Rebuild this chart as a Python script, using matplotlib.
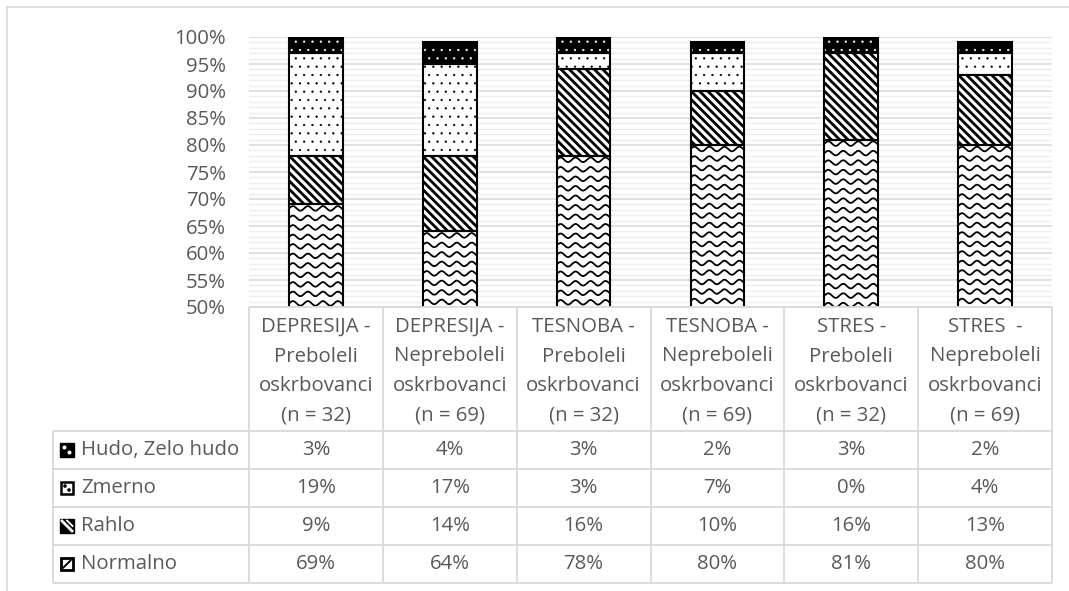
import numpy as np
import matplotlib
matplotlib.use("Agg")
import matplotlib.pyplot as plt
from matplotlib.patches import Rectangle, Circle
from matplotlib.ticker import PercentFormatter, MultipleLocator
from matplotlib.lines import Line2D

plt.rcParams['font.family'] = ['Open Sans', 'DejaVu Sans']

# ---- data ----
categories = [
    "DEPRESIJA -\nPreboleli\noskrbovanci\n(n = 32)",
    "DEPRESIJA -\nNepreboleli\noskrbovanci\n(n = 69)",
    "TESNOBA -\nPreboleli\noskrbovanci\n(n = 32)",
    "TESNOBA -\nNepreboleli\noskrbovanci\n(n = 69)",
    "STRES -\nPreboleli\noskrbovanci\n(n = 32)",
    "STRES  -\nNepreboleli\noskrbovanci\n(n = 69)",
]
normalno = [69, 64, 78, 80, 81, 80]
rahlo = [9, 14, 16, 10, 16, 13]
zmerno = [19, 17, 3, 7, 0, 4]
hudo = [3, 4, 3, 2, 3, 2]

series_names = ["Normalno", "Rahlo", "Zmerno", "Hudo, Zelo hudo"]
series_values = [normalno, rahlo, zmerno, hudo]
table_order = ["Hudo, Zelo hudo", "Zmerno", "Rahlo", "Normalno"]

# ---- layout (pixels) ----
W, H = 1069, 591
DPI = 100
px_left, px_right = 249, 1052
px_top, px_bottom = 37, 307
hdr_bottom = 431
row_h = 38
lab_left = 53
TXT = "#595959"
GRID = "#d9d9d9"
FS = 14.7

fig = plt.figure(figsize=(W / DPI, H / DPI), dpi=DPI)
ax = fig.add_axes([px_left / W, 1 - px_bottom / H,
                   (px_right - px_left) / W, (px_bottom - px_top) / H])
n = len(categories)
x = np.arange(n)
bw = 0.4
y_min, y_max = 50, 100
ax.set_xlim(-0.5, n - 0.5)
ax.set_ylim(y_min, y_max)
ax.yaxis.set_major_locator(MultipleLocator(5))
ax.yaxis.set_minor_locator(MultipleLocator(1))
ax.yaxis.set_major_formatter(PercentFormatter(100, decimals=0))
ax.grid(which='minor', axis='y', color="#eeeeee", lw=1.0)
ax.grid(which='major', axis='y', color=GRID, lw=1.1)
ax.set_axisbelow(True)
ax.tick_params(axis='y', which='both', length=0, labelsize=FS, labelcolor=TXT, pad=16.5)
ax.tick_params(axis='x', which='both', length=0, labelbottom=False)
for s in ax.spines.values():
    s.set_visible(False)

# px -> data scale for textures
dx_per_px = n / (px_right - px_left)
dy_per_px = (y_max - y_min) / (px_bottom - px_top)


def wave_texture(axis, x0, x1, y0, y1, lw=1.3, color='black'):
    """Horizontal wavy lines filling the visible part of a bar segment."""
    clip = Rectangle((x0, y0), x1 - x0, y1 - y0, transform=axis.transData)
    period = 15 * dx_per_px
    amp = 2.3 * dy_per_px
    step = 9.5 * dy_per_px
    xs = np.linspace(x0, x1, 200)
    yy = y1 - 4 * dy_per_px
    while yy > y0 - step:
        ln = Line2D(xs, yy + amp * np.sin(2 * np.pi * (xs - x0) / period),
                    color=color, lw=lw, transform=axis.transData, zorder=1.5)
        axis.add_line(ln)
        ln.set_clip_path(clip)
        yy -= step


bottom = np.zeros(n)
for name, vals in zip(series_names, series_values):
    vals = np.array(vals, dtype=float)
    for i in range(n):
        b, h = bottom[i], vals[i]
        if name == "Normalno":
            ax.bar(x[i], h, bw, bottom=b, color='white', edgecolor='black', lw=0)
            wave_texture(ax, x[i] - bw / 2, x[i] + bw / 2, max(b, y_min), b + h)
        elif name == "Rahlo":
            r = ax.bar(x[i], h, bw, bottom=b, color='white', edgecolor='black',
                       lw=0, hatch='\\\\\\\\')[0]
            if hasattr(r, 'set_hatch_linewidth'):
                r.set_hatch_linewidth(2.0)
        elif name == "Zmerno":
            r = ax.bar(x[i], h, bw, bottom=b, color='white', edgecolor='black',
                       lw=0, hatch='..')[0]
            if hasattr(r, 'set_hatch_linewidth'):
                r.set_hatch_linewidth(0.4)
        else:
            r = ax.bar(x[i], h, bw, bottom=b, color='black', edgecolor='white',
                       lw=0, hatch='..')[0]
            if hasattr(r, 'set_hatch_linewidth'):
                r.set_hatch_linewidth(0.4)
        # outline of segment
        if h > 0:
            ax.bar(x[i], h, bw, bottom=b, facecolor='none', edgecolor='black',
                   lw=1.5, zorder=2)
    bottom += vals

# ---- overlays for table and frame (pixel coordinates) ----
ov = fig.add_axes([0, 0, 1, 1], zorder=-1)
ov.set_xlim(0, W)
ov.set_ylim(H, 0)
ov.axis('off')
ov2 = fig.add_axes([0, 0, 1, 1], zorder=5)
ov2.set_xlim(0, W)
ov2.set_ylim(H, 0)
ov2.axis('off')
ov2.patch.set_alpha(0)

# outer frame
ov.plot([7, W], [7, 7], color=GRID, lw=1.2)
ov.plot([7, 7], [7, H], color=GRID, lw=1.2)

col_w = (px_right - px_left) / n
col_edges = [px_left + k * col_w for k in range(n + 1)]
n_rows = len(table_order)
tab_bottom = hdr_bottom + n_rows * row_h

lkw = dict(color=GRID, lw=1.3, solid_capstyle='butt')
ov2.plot([px_left, px_right], [px_bottom, px_bottom], **lkw)
for xe in col_edges:
    ov2.plot([xe, xe], [px_bottom, tab_bottom], **lkw)
ov2.plot([lab_left, lab_left], [hdr_bottom, tab_bottom], **lkw)
for k in range(n_rows + 1):
    yk = hdr_bottom + k * row_h
    ov2.plot([lab_left, px_right], [yk, yk], **lkw)

# header text
for i, cat in enumerate(categories):
    cx = (col_edges[i] + col_edges[i + 1]) / 2
    for j, line in enumerate(cat.split("\n")):
        ov2.text(cx, 332 + j * 29.5, line, ha='center', va='baseline',
                 fontsize=FS, color=TXT)

# table body
lookup = dict(zip(series_names, series_values))
for k, name in enumerate(table_order):
    cy = hdr_bottom + (k + 0.5) * row_h
    vals = lookup[name]
    for i in range(n):
        cx = (col_edges[i] + col_edges[i + 1]) / 2
        ov2.text(cx, cy, f"{vals[i]}%", ha='center', va='center',
                 fontsize=FS, color=TXT)
    ov2.text(81, cy, name, ha='left', va='center', fontsize=FS, color=TXT)
    # legend key
    ks = 14
    kx, ky = 60, cy - ks / 2
    if name == "Hudo, Zelo hudo":
        ov2.add_patch(Rectangle((kx, ky), ks, ks, facecolor='black', edgecolor='black', lw=1))
        ov2.add_patch(Circle((kx + 4.5, ky + 4.5), 1.3, color='white'))
        ov2.add_patch(Circle((kx + 9.5, ky + 9.5), 1.3, color='white'))
    elif name == "Zmerno":
        ov2.add_patch(Rectangle((kx + 1, ky + 1), ks - 2, ks - 2, facecolor='white',
                                edgecolor='black', lw=1.8))
        ov2.add_patch(Circle((kx + 5, ky + 5), 1.1, color='black'))
        ov2.add_patch(Circle((kx + 9, ky + 9), 1.1, color='black'))
    elif name == "Rahlo":
        ov2.add_patch(Rectangle((kx, ky), ks, ks, facecolor='black', edgecolor='black', lw=1))
        ov2.plot([kx + 2, kx + ks - 2], [ky + 2, ky + ks - 2], color='white', lw=2.0)
        ov2.plot([kx + 7, kx + ks - 1.5], [ky + 1.5, ky + 7], color='white', lw=1.3)
    else:
        ov2.add_patch(Rectangle((kx + 1, ky + 1), ks - 2, ks - 2, facecolor='white',
                                edgecolor='black', lw=2.0))
        ov2.plot([kx + 3.5, kx + 6.5, kx + 7.5, kx + 10.5],
                 [ky + 10.5, ky + 7.5, ky + 6.5, ky + 3.5], color='black', lw=1.4)

fig.savefig("out.png", dpi=DPI)
